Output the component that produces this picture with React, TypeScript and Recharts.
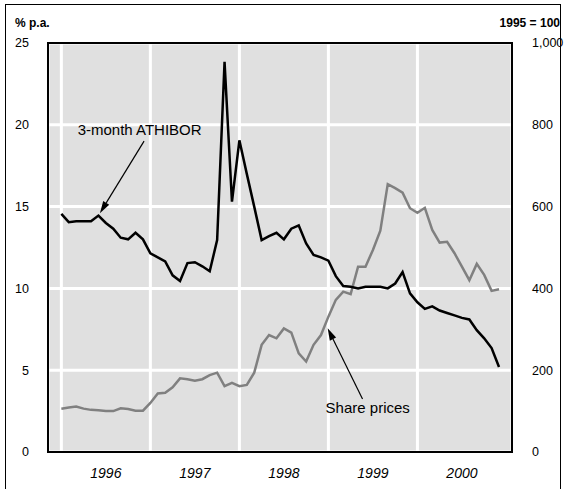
import React from 'react';
import {
  LineChart,
  Line,
  XAxis,
  YAxis,
  CartesianGrid,
  ReferenceArea,
  ReferenceLine,
  ReferenceDot,
} from 'recharts';

// monthly, Jan 1996 .. Dec 2000
const years = ['1996', '1997', '1998', '1999', '2000'];

// 3-month ATHIBOR, % p.a. (left axis)
const athibor = [
  14.55, 14.05, 14.1, 14.1, 14.1, 14.45, 14.0, 13.65, 13.1, 13.0, 13.4, 13.0,
  12.15, 11.9, 11.65, 10.8, 10.45, 11.55, 11.6, 11.35, 11.05, 12.95, 23.85, 15.3,
  19.05, 17.0, 15.0, 12.95, 13.2, 13.4, 13.0, 13.65, 13.85, 12.75, 12.05, 11.9,
  11.7, 10.75, 10.15, 10.1, 10.0, 10.1, 10.1, 10.1, 10.0, 10.3, 11.0, 9.7,
  9.15, 8.75, 8.9, 8.65, 8.5, 8.35, 8.2, 8.1, 7.45, 6.95, 6.35, 5.2,
];

// share prices, 1995 = 100 (right axis)
const sharePrices = [
  106, 109, 111, 106, 103, 102, 100, 100, 107, 105, 101, 101,
  120, 143, 145, 158, 180, 178, 174, 178, 188, 194, 161, 169,
  161, 164, 194, 262, 286, 278, 302, 292, 241, 221, 262, 286,
  331, 372, 392, 386, 453, 453, 494, 541, 655, 645, 634, 596,
  585, 597, 543, 512, 514, 486, 453, 420, 460, 433, 394, 398,
];

const leftTicks = [0, 5, 10, 15, 20, 25];
const rightTicks = [0, 200, 400, 600, 800, 1000];

const rows = athibor.map((v, i) => ({ t: i, athibor: v, shares: sharePrices[i] }));

const FONT = '"Liberation Sans", Arial, Helvetica, sans-serif';
const X_DOMAIN = [-1.8, 60.75];

// line with a filled arrow head at the (x2, y2) end
const Arrow = (props: any) => {
  const { x1, y1, x2, y2 } = props;
  const a = Math.atan2(y2 - y1, x2 - x1);
  const len = 12;
  const half = 3.5;
  const bx = x2 - len * Math.cos(a);
  const by = y2 - len * Math.sin(a);
  const px = -Math.sin(a) * half;
  const py = Math.cos(a) * half;
  return (
    <g>
      <line x1={x1} y1={y1} x2={bx} y2={by} stroke="#000" strokeWidth={1.2} />
      <polygon
        points={`${x2},${y2} ${bx + px},${by + py} ${bx - px},${by - py}`}
        fill="#000"
      />
    </g>
  );
};

const labelStyle = { fontSize: 15, fill: '#000', fontFamily: FONT };
const tickStyle = { fontSize: 12.5, fill: '#000', fontFamily: FONT };

export default function App() {
  return (
    <div
      style={{
        position: 'absolute',
        left: 0,
        top: 0,
        width: 565,
        height: 489,
        overflow: 'hidden',
        background: '#fff',
        fontFamily: FONT,
      }}
    >
      <div
        style={{
          position: 'absolute',
          left: 5,
          top: 4,
          width: 554,
          height: 520,
          border: '1.5px solid #000',
        }}
      />
      <div style={{ position: 'absolute', left: 15, top: 16, fontSize: 12, fontWeight: 'bold' }}>
        % p.a.
      </div>
      <div
        style={{
          position: 'absolute',
          left: 480,
          width: 80,
          top: 16,
          fontSize: 12,
          fontWeight: 'bold',
          textAlign: 'right',
          whiteSpace: 'nowrap',
        }}
      >
        1995 = 100
      </div>
      <LineChart
        width={565}
        height={489}
        data={rows}
        margin={{ top: 43, right: 0, bottom: 7, left: 0 }}
        style={{ position: 'absolute', left: 0, top: 0 }}
      >
        <XAxis
          xAxisId="x"
          dataKey="t"
          type="number"
          domain={X_DOMAIN}
          allowDataOverflow
          ticks={[6, 18, 30, 42, 54]}
          tickFormatter={(v: number) => years[Math.round((v - 6) / 12)]}
          axisLine={false}
          tickLine={false}
          tickSize={0}
          tickMargin={16}
          height={30}
          tick={{ fontSize: 14, fontStyle: 'italic', fill: '#000', fontFamily: FONT }}
        />
        <YAxis
          yAxisId="l"
          orientation="left"
          domain={[0, 25]}
          ticks={leftTicks}
          width={48}
          axisLine={false}
          tickLine={false}
          tickSize={0}
          tickMargin={19}
          tick={tickStyle}
        />
        <YAxis
          yAxisId="r"
          orientation="right"
          domain={[0, 1000]}
          ticks={rightTicks}
          width={53}
          axisLine={false}
          tickLine={false}
          tickSize={0}
          tickMargin={20}
          tickFormatter={(v: number) => v.toLocaleString('en-US')}
          tick={{ ...tickStyle, textAnchor: 'start' }}
        />
        {/* year boundaries for the vertical grid lines */}
        <XAxis
          xAxisId="gx"
          dataKey="t"
          type="number"
          domain={X_DOMAIN}
          allowDataOverflow
          ticks={[0, 12, 24, 36, 48]}
          height={0}
          hide
        />
        <CartesianGrid xAxisId="gx" yAxisId="l" fill="#e0e0e0" stroke="#fff" strokeWidth={3} />
        <Line
          xAxisId="x"
          yAxisId="r"
          type="linear"
          dataKey="shares"
          stroke="#808080"
          strokeWidth={2.5}
          dot={false}
          isAnimationActive={false}
        />
        <Line
          xAxisId="x"
          yAxisId="l"
          type="linear"
          dataKey="athibor"
          stroke="#000"
          strokeWidth={2.5}
          dot={false}
          isAnimationActive={false}
        />
        <ReferenceLine
          xAxisId="x"
          yAxisId="l"
          segment={[{ x: 11.15, y: 19.0 }, { x: 5.2, y: 14.6 }]}
          shape={Arrow}
        />
        <ReferenceDot
          xAxisId="x"
          yAxisId="l"
          x={10.55}
          y={19.7}
          r={0}
          fill="none"
          stroke="none"
          label={{ value: '3-month ATHIBOR', position: 'center', ...labelStyle }}
        />
        <ReferenceLine
          xAxisId="x"
          yAxisId="l"
          segment={[{ x: 40.6, y: 3.24 }, { x: 35.9, y: 7.56 }]}
          shape={Arrow}
        />
        <ReferenceDot
          xAxisId="x"
          yAxisId="l"
          x={41.3}
          y={2.69}
          r={0}
          fill="none"
          stroke="none"
          label={{ value: 'Share prices', position: 'center', ...labelStyle }}
        />
        <ReferenceArea
          xAxisId="x"
          yAxisId="l"
          x1={X_DOMAIN[0]}
          x2={X_DOMAIN[1]}
          y1={0}
          y2={25}
          fill="none"
          stroke="#000"
          strokeWidth={2}
          ifOverflow="extendDomain"
        />
      </LineChart>
    </div>
  );
}
